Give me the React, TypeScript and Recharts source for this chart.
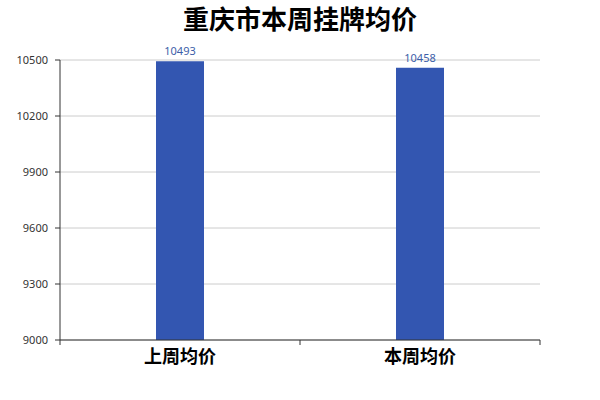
import React from 'react';
import { BarChart, Bar, XAxis, YAxis, CartesianGrid, LabelList } from 'recharts';

const categories = ['上周均价', '本周均价'];
const prices = [10493, 10458];
const yTicks = [9000, 9300, 9600, 9900, 10200, 10500];

const data = categories.map((name, i) => ({ name, price: prices[i] }));

const FONT = '"Noto Sans", "Noto Sans CJK SC", sans-serif';

const CategoryTick = (props) => {
    const { x, y, payload, index, visibleTicksCount } = props;
    const half = payload && payload.offset ? payload.offset : 120;
    return (
        <g>
            <line x1={x - half} y1={y} x2={x - half} y2={y + 5} stroke="#333" />
            {index === visibleTicksCount - 1 && (
                <line x1={x + half} y1={y} x2={x + half} y2={y + 5} stroke="#333" />
            )}
            <text
                x={x}
                y={y + 23}
                textAnchor="middle"
                fill="#000"
                fontSize={18}
                fontWeight="bold"
                fontFamily='"Noto Sans CJK SC", sans-serif'
            >
                {payload.value}
            </text>
        </g>
    );
};

const App = () => {
    return (
        <div style={{ position: 'absolute', left: 0, top: 0, width: 600, height: 400, background: 'white', fontFamily: FONT }}>
            <div
                style={{
                    position: 'absolute',
                    top: 3,
                    left: 0,
                    width: 600,
                    textAlign: 'center',
                    fontSize: 26,
                    fontWeight: 'bold',
                    lineHeight: '30px',
                    color: '#000',
                    fontFamily: '"Noto Sans CJK SC", sans-serif',
                }}
            >
                重庆市本周挂牌均价
            </div>
            <BarChart width={600} height={400} data={data} margin={{ top: 60, right: 60, bottom: 30, left: 0 }}>
                <CartesianGrid vertical={false} stroke="#ccc" />
                <XAxis
                    dataKey="name"
                    height={30}
                    stroke="#333"
                    tickLine={false}
                    tickSize={0}
                    tickMargin={0}
                    tick={<CategoryTick />}
                    interval={0}
                />
                <YAxis
                    width={60}
                    domain={[9000, 10500]}
                    ticks={yTicks}
                    interval={0}
                    stroke="#333"
                    tickSize={5}
                    tickMargin={7}
                    tick={{ fill: '#333', fontSize: 11, fontFamily: FONT }}
                />
                <Bar dataKey="price" fill="#3356b1" barSize={48} isAnimationActive={false}>
                    <LabelList dataKey="price" position="top" offset={6} fill="#3c5ea8" fontSize={11} fontFamily={FONT} />
                </Bar>
            </BarChart>
        </div>
    );
};

export default App;
